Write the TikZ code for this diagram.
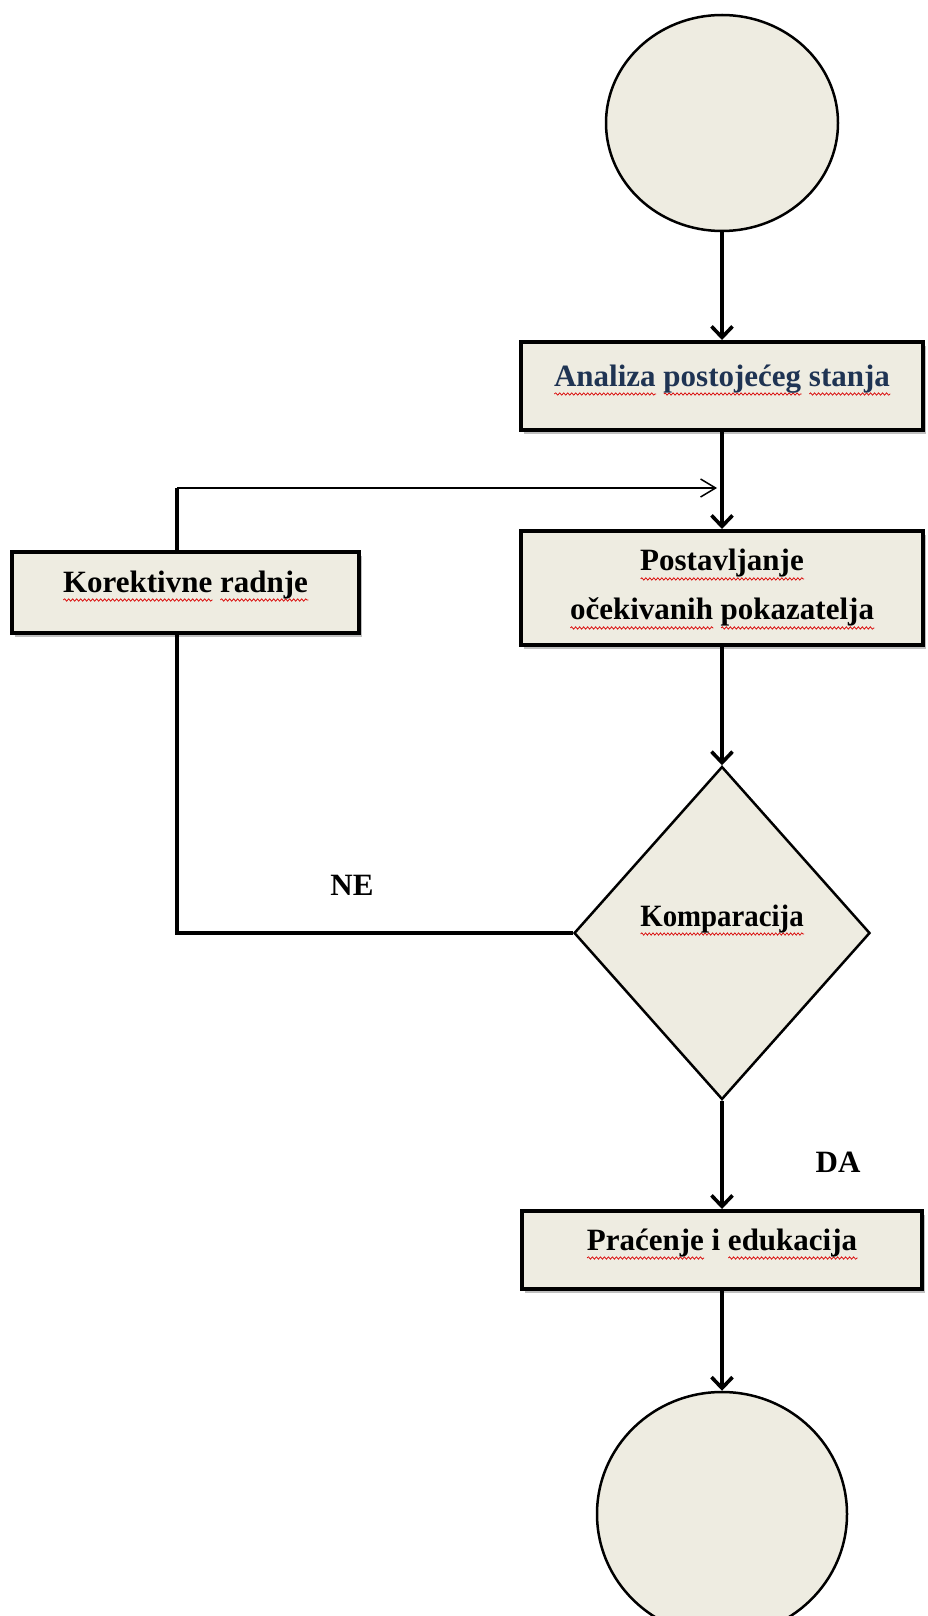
\documentclass[tikz,border=0pt]{standalone}
\usepackage{fontspec}
\usepackage{graphicx}
\setmainfont{Liberation Serif}
\usetikzlibrary{shapes.geometric,arrows.meta,shadows,decorations.pathmorphing}
\definecolor{boxfill}{HTML}{EEECE1}
\definecolor{navytext}{HTML}{1F3453}
\newsavebox\wordbox
\newcommand\redwave[1]{\sbox\wordbox{#1}\leavevmode\rlap{\raisebox{-8pt}[0pt][0pt]{\tikz[x=1pt,y=1pt,baseline=0pt]\draw[red!85!black,line width=0.7pt,decorate,decoration={snake,amplitude=1.2pt,segment length=4pt}] (0pt,0pt) -- (\the\wd\wordbox,0pt);}}\usebox\wordbox}
\begin{document}
\begin{tikzpicture}[x=1pt,y=-1pt,
  every node/.style={font=\bfseries\fontsize{31}{49}\selectfont},
  boxshadow/.style={drop shadow={shadow xshift=3pt,shadow yshift=-4pt,opacity=0.25,fill=black}},
  procbox/.style={draw, line width=4pt, fill=boxfill, rectangle, inner sep=0pt, align=center, boxshadow},
  onebase/.style={text height=24pt, text depth=24pt},
  terminal/.style={draw, line width=2.5pt, fill=boxfill, ellipse, inner sep=0pt},
  decision/.style={draw, line width=2.5pt, fill=boxfill, diamond, inner sep=0pt, align=center},
  flow/.style={line width=3.6pt, -{Straight Barb[length=11pt,width=21pt]}},
  link/.style={line width=4pt, line join=miter},
  backflow/.style={line width=1.5pt, -{Straight Barb[length=15pt,width=18pt]}}
]
\useasboundingbox (0,0) rectangle (928,1616);
\clip (0,0) rectangle (928,1616);
\fill[white] (0,0) rectangle (928,1616);

\node[terminal, minimum width=232pt, minimum height=216pt] (start) at (722,123) {};
\node[procbox, onebase, minimum width=402pt, minimum height=88pt, text=navytext] (ana) at (722,386)
  {\redwave{Analiza} \redwave{postojećeg} \redwave{stanja}};
\node[procbox, minimum width=402pt, minimum height=114pt] (post) at (722,588)
  {\redwave{Postavljanje}\\ \redwave{očekivanih} \redwave{pokazatelja}};
\node[procbox, onebase, minimum width=347pt, minimum height=81pt] (kor) at (185.5,592)
  {\redwave{Korektivne} \redwave{radnje}};
\node[decision, text height=24pt, text depth=38pt, minimum width=296pt, minimum height=333pt] (cmp) at (722,933)
  {\scalebox{0.93}[1]{\redwave{Komparacija}}};
\node[procbox, onebase, minimum width=400pt, minimum height=78pt] (prac) at (722,1250)
  {\redwave{Praćenje} i \redwave{edukacija}};
\node[terminal, minimum width=250pt, minimum height=244pt] (end) at (722,1514) {};
\node[anchor=base] (ne) at (352,895) {NE};
\node[anchor=base] (da) at (838,1172) {DA};
\coordinate (fx) at (177,488);
\coordinate (joint) at (722,488);

\draw[flow] (start) -- (ana);
\draw[flow] (ana) -- (post);
\draw[flow] (post) -- (cmp);
\draw[flow] (cmp) -- (prac);
\draw[flow] (prac) -- (end);
\draw[link] (cmp.west) -| (kor.south -| fx);
\draw[link] (kor.north -| fx) -- (fx);
\draw[backflow, shorten >=5pt] (fx) -- (joint);
\end{tikzpicture}
\end{document}
